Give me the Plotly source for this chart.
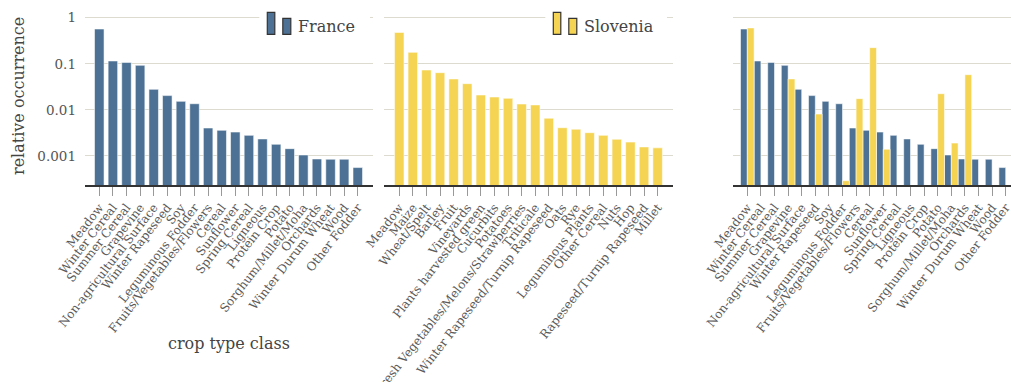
import plotly.graph_objects as go

# ---------------- data ----------------
france_labels = ["Meadow", "Winter Cereal", "Summer Cereal", "Grapevine", "Non-agricultural Surface",
                 "Winter Rapeseed", "Soy", "Leguminous Fodder", "Fruits/Vegetables/Flowers", "Cereal",
                 "Sunflower", "Spring Cereal", "Ligneous", "Protein Crop", "Potato",
                 "Sorghum/Millet/Moha", "Orchards", "Winter Durum Wheat", "Wood", "Other Fodder"]
france_values = [0.568, 0.115, 0.107, 0.0925, 0.0279, 0.0204, 0.0153, 0.0136, 0.00404, 0.0036,
                 0.0033, 0.0028, 0.00234, 0.00179, 0.00144, 0.00105, 0.00086, 0.00085, 0.00085, 0.00056]

slovenia_labels = ["Meadow", "Maize", "Wheat/Spelt", "Barley", "Fruit", "Vineyards",
                   "Plants harvested green", "Cucurbits", "Potatoes",
                   "Fresh Vegetables/Melons/Strawberries", "Triticale",
                   "Winter Rapeseed/Turnip Rapeseed", "Oats", "Rye", "Leguminous Plants",
                   "Other Cereal", "Nuts", "Hop", "Rapeseed/Turnip Rapeseed", "Millet"]
slovenia_values = [0.48, 0.177, 0.0733, 0.0641, 0.0468, 0.037, 0.021, 0.019, 0.0178, 0.0134,
                   0.0128, 0.0066, 0.0041, 0.0038, 0.0032, 0.0028, 0.0023, 0.0020, 0.00157, 0.0015]

# Slovenia values mapped onto the French classes (None = no counterpart)
slovenia_on_france = [0.6, None, None, 0.047, None, 0.0081, None, 0.00029, 0.0175, 0.224,
                      0.0014, None, None, None, 0.0224, 0.0019, 0.058, None, None, None]

y_tickvals = [0.001, 0.01, 0.1, 1]
y_ticktext = ["0.001", "0.01", "0.1", "1"]

# ---------------- style ----------------
W, H = 1011, 382
BLUE = "#4c7194"
YELLOW = "#f4d452"
GRID = "#dddbd0"
FONT = "DejaVu Serif"
EDGE = dict(color="rgba(255,255,255,0.55)", width=1)


def px_x(x):
    return x / W


def px_y(y):
    return 1 - y / H


fig = go.Figure()

fig.add_trace(go.Bar(x=france_labels, y=france_values, marker=dict(color=BLUE, line=EDGE),
                     width=0.7, xaxis="x", yaxis="y", name="France", showlegend=False))
fig.add_trace(go.Bar(x=slovenia_labels, y=slovenia_values, marker=dict(color=YELLOW, line=EDGE),
                     width=0.7, xaxis="x2", yaxis="y2", name="Slovenia", showlegend=False))
fig.add_trace(go.Bar(x=france_labels, y=france_values, marker=dict(color=BLUE, line=EDGE),
                     width=0.5, offset=-0.5, xaxis="x3", yaxis="y3", name="France", showlegend=False))
fig.add_trace(go.Bar(x=france_labels, y=slovenia_on_france, marker=dict(color=YELLOW, line=EDGE),
                     width=0.5, offset=0.0, xaxis="x3", yaxis="y3", name="Slovenia", showlegend=False))

ydom = [px_y(185), px_y(14)]
yrange = [-3.63, 0.08]

xcommon = dict(type="category", showline=True, linecolor="#333", linewidth=1.5,
               ticks="outside", ticklen=9, tickcolor="#999", tickwidth=1,
               tickangle=-52, dtick=1, showgrid=False, zeroline=False, automargin=False,
               tickfont=dict(family=FONT, size=12, color="#5a5a5a"))
ycommon = dict(type="log", range=yrange, domain=ydom, tickvals=y_tickvals,
               showgrid=True, gridcolor=GRID, gridwidth=1, zeroline=False,
               showline=False, ticks="", automargin=False)

fig.update_layout(
    template="none",
    width=W, height=H, margin=dict(l=0, r=0, t=0, b=0, autoexpand=False),
    paper_bgcolor="white", plot_bgcolor="white", barmode="overlay",
    font=dict(family=FONT, color="#444"),
    xaxis=dict(xcommon, domain=[px_x(85), px_x(373)], range=[-1.05, 20.12], anchor="y",
               categoryorder="array", categoryarray=france_labels),
    xaxis2=dict(xcommon, domain=[px_x(384), px_x(673)], range=[-1.12, 20.13], anchor="y2",
                categoryorder="array", categoryarray=slovenia_labels),
    xaxis3=dict(xcommon, domain=[px_x(733.3), 1.0], range=[-1.03, 19.39], anchor="y3",
                categoryorder="array", categoryarray=france_labels),
    yaxis=dict(ycommon, anchor="x", ticktext=y_ticktext, showticklabels=True,
               ticklabelstandoff=8, tickfont=dict(family=FONT, size=13.5, color="#555")),
    yaxis2=dict(ycommon, anchor="x2", showticklabels=False),
    yaxis3=dict(ycommon, anchor="x3", showticklabels=False),
)

# axis titles
fig.add_annotation(text="relative occurrence", xref="paper", yref="paper",
                   x=px_x(18), y=px_y(96), textangle=-90, showarrow=False,
                   xanchor="center", yanchor="middle",
                   font=dict(family=FONT, size=16, color="#444"))
fig.add_annotation(text="crop type class", xref="paper", yref="paper",
                   x=px_x(229), y=px_y(343), showarrow=False,
                   xanchor="center", yanchor="middle",
                   font=dict(family=FONT, size=16, color="#444"))

# legends (drawn as decoration)
def legend(x0, color, label, box_right):
    fig.add_shape(type="rect", xref="paper", yref="paper", layer="above",
                  x0=px_x(x0 - 8), x1=px_x(box_right), y0=px_y(42), y1=px_y(4),
                  fillcolor="white", line=dict(width=0))
    fig.add_shape(type="rect", xref="paper", yref="paper", layer="above",
                  x0=px_x(x0), x1=px_x(x0 + 7.5), y0=px_y(34.3), y1=px_y(12.3),
                  fillcolor=color, line=dict(color="#333", width=1.2))
    fig.add_shape(type="rect", xref="paper", yref="paper", layer="above",
                  x0=px_x(x0 + 15.5), x1=px_x(x0 + 23.5), y0=px_y(34.3), y1=px_y(18.3),
                  fillcolor=color, line=dict(color="#333", width=1.2))
    fig.add_annotation(text=label, xref="paper", yref="paper",
                       x=px_x(x0 + 28.5), y=px_y(27), showarrow=False,
                       xanchor="left", yanchor="middle",
                       font=dict(family=FONT, size=16, color="#444"))


legend(267.3, BLUE, "France", 370)
legend(553.3, YELLOW, "Slovenia", 667)

fig.write_html("out.html")
